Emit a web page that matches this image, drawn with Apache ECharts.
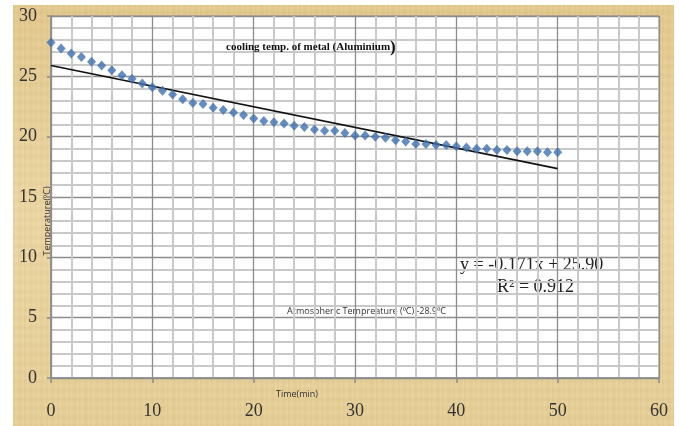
<!DOCTYPE html>
<html>
<head>
<meta charset="utf-8">
<script src="https://cdn.jsdelivr.net/npm/echarts@6/dist/echarts.min.js"></script>
<style>
html,body{margin:0;padding:0;background:#fff;}
#paper{position:absolute;left:13px;top:5px;width:661px;height:421px;
background:
 repeating-linear-gradient(90deg, rgba(180,140,70,0.10) 0px, rgba(255,240,200,0.08) 3px, rgba(170,130,60,0.06) 7px, rgba(255,245,210,0.1) 11px),
 repeating-linear-gradient(0deg, rgba(190,150,80,0.08) 0px, rgba(255,240,200,0.06) 4px, rgba(170,130,60,0.07) 9px),
 linear-gradient(180deg,#e3c98f 0%,#ecd8a6 50%,#e6cf98 100%);}
#main{position:absolute;left:0;top:0;width:679px;height:426px;}
</style>
</head>
<body>
<div id="paper"></div>
<div id="main"></div>
<script>
// Time (min)
const timeMin = [0,1,2,3,4,5,6,7,8,9,10,11,12,13,14,15,16,17,18,19,20,21,22,23,24,25,26,27,28,29,30,31,32,33,34,35,36,37,38,39,40,41,42,43,44,45,46,47,48,49,50];
// Temperature (°C)
const tempC = [27.8,27.3,26.9,26.6,26.2,25.9,25.5,25.1,24.8,24.4,24.1,23.8,23.5,23.1,22.8,22.7,22.4,22.2,22.0,21.8,21.5,21.3,21.2,21.1,20.9,20.8,20.6,20.5,20.5,20.3,20.1,20.1,20.0,19.9,19.7,19.6,19.4,19.4,19.3,19.3,19.2,19.1,19.0,19.0,18.9,18.9,18.8,18.8,18.8,18.7,18.7];
// Linear trendline endpoints (y = -0.171x + 25.90)
const trendX = [0, 50];
const trendY = [25.90, 17.35];
const xTicks = [0,10,20,30,40,50,60];
const yTicks = [0,5,10,15,20,25,30];

const chart = echarts.init(document.getElementById('main'), null, {renderer:'canvas'});
const serif = '"Liberation Serif","Times New Roman",serif';
const sans = '"Open Sans","Noto Sans",sans-serif';
chart.setOption({
  backgroundColor: 'transparent',
  animation: false,
  grid: {left: 51, top: 16, right: 20, bottom: 48, outerBoundsMode: 'none', containLabel: false,
         show: true, backgroundColor: '#ffffff', borderColor: '#8c8c8c', borderWidth: 1},
  title: {
    text: '{t|cooling temp. of metal (Aluminium}{p|)}',
    left: 221, top: 34,
    textStyle: {rich: {
      t: {fontFamily: serif, fontWeight: 'bold', fontSize: 11, color: '#111'},
      p: {fontFamily: serif, fontSize: 17, color: '#111'}
    }}
  },
  xAxis: {
    type: 'value', min: xTicks[0], max: xTicks[xTicks.length-1], interval: 10,
    axisLine: {show: true, lineStyle: {color: '#8c8c8c', width: 1.5}},
    axisTick: {show: true, length: 5, lineStyle: {color: '#8c8c8c', width: 1.5}},
    axisLabel: {margin: 24, fontFamily: serif, fontSize: 18, color: '#333'},
    splitLine: {show: true, lineStyle: {color: '#8c8c8c', width: 1.3}},
    minorTick: {show: false, splitNumber: 5},
    minorSplitLine: {show: true, lineStyle: {color: '#c9c9c9', width: 2}}
  },
  yAxis: {
    type: 'value', min: yTicks[0], max: yTicks[yTicks.length-1], interval: 5,
    axisLine: {show: true, lineStyle: {color: '#8c8c8c', width: 1.5}},
    axisTick: {show: true, length: 4, lineStyle: {color: '#8c8c8c', width: 1.5}},
    axisLabel: {margin: 14, fontFamily: serif, fontSize: 18, color: '#333'},
    splitLine: {show: true, lineStyle: {color: '#8c8c8c', width: 1.3}},
    minorTick: {show: false, splitNumber: 5},
    minorSplitLine: {show: true, lineStyle: {color: '#c9c9c9', width: 2}}
  },
  series: [
    {
      type: 'scatter', name: 'Temperature',
      data: timeMin.map((t, i) => [t, tempC[i]]),
      symbol: 'diamond', symbolSize: [9, 10],
      itemStyle: {color: '#3f71b0'}, z: 3
    },
    {
      type: 'line', name: 'Linear',
      data: trendX.map((t, i) => [t, trendY[i]]),
      symbol: 'none', lineStyle: {color: '#111', width: 1.6}, z: 2
    }
  ],
  graphic: [
    {type: 'text', x: 297, y: 394, style: {text: 'Time(min)', font: '9px ' + sans, fill: '#333', align: 'center', verticalAlign: 'middle'}},
    {type: 'text', x: 47, y: 221, rotation: Math.PI / 2, style: {text: 'Temperature(⁰C)', font: '9px ' + sans, fill: '#333', align: 'center', verticalAlign: 'middle'}},
    {type: 'text', left: 460, top: 256, style: {text: 'y = -0.171x + 25.90', font: '18px ' + serif, fill: '#222'}},
    {type: 'text', left: 497, top: 278, style: {text: 'R² = 0.912', font: '18px ' + serif, fill: '#222'}},
    {type: 'text', left: 287, top: 307, style: {text: 'Atmospheric Tempreature (⁰C) -28.9⁰C', font: '9px ' + sans, fill: '#333'}}
  ]
});
</script>
</body>
</html>
